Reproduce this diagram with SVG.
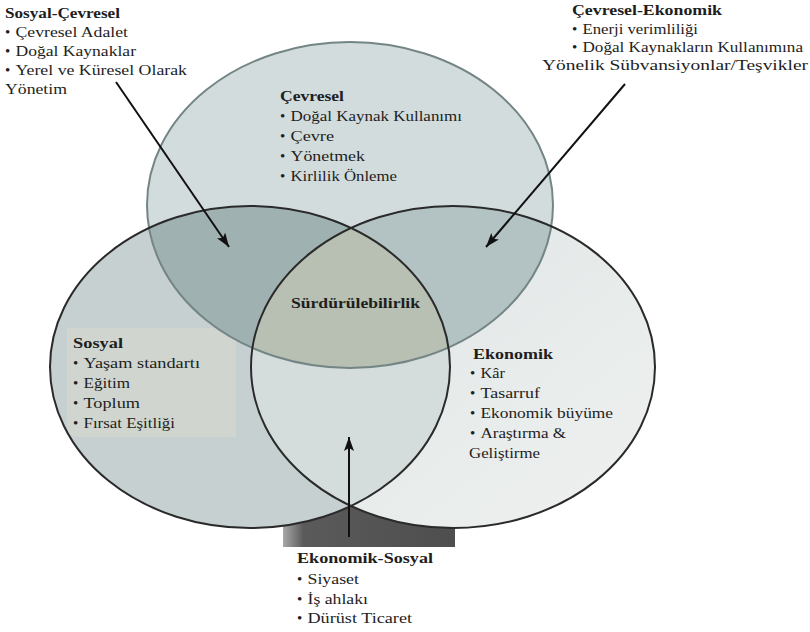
<svg xmlns="http://www.w3.org/2000/svg" width="810" height="632" viewBox="0 0 810 632">
<style>
text{font-family:'Liberation Serif','DejaVu Serif','Times New Roman',serif;font-size:15px;fill:#1e1e1e}
text.b{font-weight:bold}
.edge{fill:none;stroke:#2a2a2a;stroke-width:2}
.edgeTop{fill:none;stroke:#748585;stroke-width:2}
.arrow{stroke:#111;stroke-width:2;fill:none;marker-end:url(#head)}
</style>
<defs>
<marker id="head" viewBox="0 0 14 10" refX="14" refY="5" markerWidth="14" markerHeight="10" markerUnits="userSpaceOnUse" orient="auto">
<path d="M0,0 L14,5 L0,10 L3,5 z" fill="#111"/>
</marker>
<linearGradient id="rightGrad" x1="0" y1="0" x2="1" y2="1">
<stop offset="0" stop-color="#dde4e4"/>
<stop offset="1" stop-color="#eff1f0"/>
</linearGradient>
<linearGradient id="shadowGrad" x1="0" y1="0" x2="1" y2="0">
<stop offset="0" stop-color="#a8a8a8"/>
<stop offset="0.12" stop-color="#5a5a5a"/>
<stop offset="1" stop-color="#4e4e4e"/>
</linearGradient>
<clipPath id="clipTop"><ellipse cx="350" cy="205" rx="203" ry="163"/></clipPath>
<clipPath id="clipLeft"><ellipse cx="250" cy="367" rx="200" ry="161"/></clipPath>
<clipPath id="clipRight"><ellipse cx="453" cy="367" rx="202" ry="161"/></clipPath>
</defs>
<rect width="810" height="632" fill="#ffffff"/>
<rect x="283" y="470" width="172" height="77" fill="url(#shadowGrad)"/>
<g id="sosyal">
<ellipse cx="250" cy="367" rx="200" ry="161" fill="#c6d0d0"/>
<rect x="67" y="328" width="169" height="109" fill="#d0d6cf" clip-path="url(#clipLeft)"/>
</g>
<g id="ekonomik">
<ellipse cx="453" cy="367" rx="202" ry="161" fill="url(#rightGrad)"/>
</g>
<g id="cevresel">
<ellipse cx="350" cy="205" rx="203" ry="163" fill="#d2dcdc"/>
</g>
<g id="overlaps">
<g clip-path="url(#clipTop)"><ellipse cx="250" cy="367" rx="200" ry="161" fill="#a0b1b1"/></g>
<g clip-path="url(#clipTop)"><ellipse cx="453" cy="367" rx="202" ry="161" fill="#b3c2c2"/></g>
<g clip-path="url(#clipLeft)"><ellipse cx="453" cy="367" rx="202" ry="161" fill="#d4dcdc"/></g>
<g clip-path="url(#clipTop)"><g clip-path="url(#clipLeft)"><ellipse cx="453" cy="367" rx="202" ry="161" fill="#b8bfb3"/></g></g>
</g>
<g id="outlines">
<ellipse class="edgeTop" cx="350" cy="205" rx="203" ry="163"/>
<ellipse class="edge" cx="250" cy="367" rx="200" ry="161"/>
<ellipse class="edge" cx="453" cy="367" rx="202" ry="161"/>
</g>
<rect x="288" y="547" width="175" height="85" fill="#ffffff"/>
<g id="connectors">
<line class="arrow" x1="116" y1="82" x2="229" y2="247"/>
<line class="arrow" x1="625" y1="84" x2="486" y2="247"/>
<line class="arrow" x1="349" y1="537" x2="349" y2="437"/>
</g>
<g id="label-sosyal-cevresel">
<text class="b" x="5" y="18" textLength="115" lengthAdjust="spacingAndGlyphs">Sosyal-Çevresel</text>
<text x="5" y="37">•</text><text x="15.5" y="37" textLength="112.5" lengthAdjust="spacingAndGlyphs">Çevresel Adalet</text>
<text x="5" y="56">•</text><text x="15.5" y="56" textLength="120.5" lengthAdjust="spacingAndGlyphs">Doğal Kaynaklar</text>
<text x="5" y="75">•</text><text x="15.5" y="75" textLength="171.5" lengthAdjust="spacingAndGlyphs">Yerel ve Küresel Olarak</text>
<text x="5" y="94" textLength="62" lengthAdjust="spacingAndGlyphs">Yönetim</text>
</g>
<g id="label-cevresel-ekonomik">
<text class="b" x="572" y="15" textLength="150" lengthAdjust="spacingAndGlyphs">Çevresel-Ekonomik</text>
<text x="572" y="34">•</text><text x="582.5" y="34" textLength="115.5" lengthAdjust="spacingAndGlyphs">Enerji verimliliği</text>
<text x="572" y="52">•</text><text x="582.5" y="52" textLength="220.5" lengthAdjust="spacingAndGlyphs">Doğal Kaynakların Kullanımına</text>
<text x="542" y="70" textLength="266" lengthAdjust="spacingAndGlyphs">Yönelik Sübvansiyonlar/Teşvikler</text>
</g>
<g id="label-cevresel">
<text class="b" x="280" y="101" textLength="64" lengthAdjust="spacingAndGlyphs">Çevresel</text>
<text x="280" y="121">•</text><text x="290.5" y="121" textLength="171.5" lengthAdjust="spacingAndGlyphs">Doğal Kaynak Kullanımı</text>
<text x="280" y="141">•</text><text x="290.5" y="141" textLength="43.5" lengthAdjust="spacingAndGlyphs">Çevre</text>
<text x="280" y="161">•</text><text x="290.5" y="161" textLength="74.5" lengthAdjust="spacingAndGlyphs">Yönetmek</text>
<text x="280" y="181">•</text><text x="290.5" y="181" textLength="106.5" lengthAdjust="spacingAndGlyphs">Kirlilik Önleme</text>
</g>
<g id="label-surdurulebilirlik">
<text class="b" x="291" y="308" textLength="129" lengthAdjust="spacingAndGlyphs">Sürdürülebilirlik</text>
</g>
<g id="label-sosyal">
<text class="b" x="73" y="348" textLength="50" lengthAdjust="spacingAndGlyphs">Sosyal</text>
<text x="73" y="368">•</text><text x="83.5" y="368" textLength="116.5" lengthAdjust="spacingAndGlyphs">Yaşam standartı</text>
<text x="73" y="388">•</text><text x="83.5" y="388" textLength="46.5" lengthAdjust="spacingAndGlyphs">Eğitim</text>
<text x="73" y="408">•</text><text x="83.5" y="408" textLength="56.5" lengthAdjust="spacingAndGlyphs">Toplum</text>
<text x="73" y="428">•</text><text x="83.5" y="428" textLength="91.5" lengthAdjust="spacingAndGlyphs">Fırsat Eşitliği</text>
</g>
<g id="label-ekonomik">
<text class="b" x="473" y="359" textLength="80" lengthAdjust="spacingAndGlyphs">Ekonomik</text>
<text x="470" y="378">•</text><text x="480.5" y="378" textLength="24.5" lengthAdjust="spacingAndGlyphs">Kâr</text>
<text x="470" y="398">•</text><text x="480.5" y="398" textLength="59.5" lengthAdjust="spacingAndGlyphs">Tasarruf</text>
<text x="470" y="418">•</text><text x="480.5" y="418" textLength="132.5" lengthAdjust="spacingAndGlyphs">Ekonomik büyüme</text>
<text x="470" y="438">•</text><text x="480.5" y="438" textLength="85.5" lengthAdjust="spacingAndGlyphs">Araştırma &amp;</text>
<text x="469" y="458" textLength="71" lengthAdjust="spacingAndGlyphs">Geliştirme</text>
</g>
<g id="label-ekonomik-sosyal">
<text class="b" x="297" y="563" textLength="136" lengthAdjust="spacingAndGlyphs">Ekonomik-Sosyal</text>
<text x="297" y="584">•</text><text x="307.5" y="584" textLength="51.5" lengthAdjust="spacingAndGlyphs">Siyaset</text>
<text x="297" y="604">•</text><text x="307.5" y="604" textLength="60.5" lengthAdjust="spacingAndGlyphs">İş ahlakı</text>
<text x="297" y="623">•</text><text x="307.5" y="623" textLength="104.5" lengthAdjust="spacingAndGlyphs">Dürüst Ticaret</text>
</g>
</svg>
